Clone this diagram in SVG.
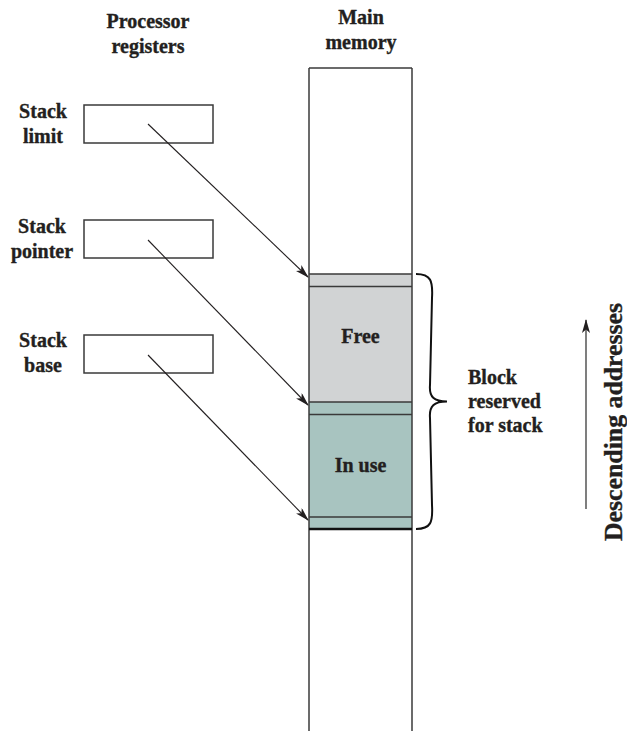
<svg xmlns="http://www.w3.org/2000/svg" width="627" height="731" viewBox="0 0 627 731">
<style>
text{font-family:"Liberation Serif","Times New Roman",serif;font-weight:bold;font-size:20px;fill:#231f20;stroke:#231f20;stroke-width:0.35}
.c{text-anchor:middle}
.reg{fill:#fff;stroke:#3a3a3a;stroke-width:1.5}
.mline{stroke:#3a3a3a;stroke-width:1.5;fill:none}
.conn{stroke:#231f20;stroke-width:1.1;fill:none;marker-end:url(#ah)}
</style>
<defs>
<marker id="ah" viewBox="0 0 14 8" refX="13" refY="4" markerWidth="14" markerHeight="8" markerUnits="userSpaceOnUse" orient="auto">
<path d="M0,0 L14,4 L0,8 L3.5,4 Z" fill="#231f20"/>
</marker>
</defs>
<rect width="627" height="731" fill="#fff"/>
<g id="headers">
<text class="c" x="148" y="28">Processor</text>
<text class="c" x="148" y="53">registers</text>
<text class="c" x="361" y="24">Main</text>
<text class="c" x="361" y="49">memory</text>
</g>
<g id="memory">
<rect x="309" y="274" width="103" height="128" fill="#d1d3d4"/>
<rect x="309" y="402" width="103" height="127" fill="#a8c4c0"/>
<line class="mline" x1="309" y1="68" x2="309" y2="731"/>
<line class="mline" x1="412" y1="68" x2="412" y2="731"/>
<line class="mline" x1="309" y1="68" x2="412" y2="68"/>
<line class="mline" x1="309" y1="274" x2="412" y2="274"/>
<line class="mline" x1="309" y1="286.5" x2="412" y2="286.5"/>
<line class="mline" x1="309" y1="402" x2="412" y2="402"/>
<line class="mline" x1="309" y1="414.5" x2="412" y2="414.5"/>
<line class="mline" x1="309" y1="517" x2="412" y2="517"/>
<line x1="309" y1="529" x2="412" y2="529" stroke="#111" stroke-width="2.5"/>
<text class="c" x="360.5" y="343">Free</text>
<text class="c" x="360.5" y="472">In use</text>
</g>
<g id="stack-limit">
<rect class="reg" x="84" y="105" width="129" height="38"/>
<text class="c" x="43" y="118">Stack</text>
<text class="c" x="43" y="143">limit</text>
</g>
<g id="stack-pointer">
<rect class="reg" x="84" y="220" width="129" height="38"/>
<text class="c" x="42" y="233">Stack</text>
<text class="c" x="42" y="258">pointer</text>
</g>
<g id="stack-base">
<rect class="reg" x="84" y="335" width="129" height="38"/>
<text class="c" x="43" y="347">Stack</text>
<text class="c" x="43" y="372">base</text>
</g>
<g id="block-reserved">
<path d="M416,274 C431,274 433,281 432,298 L430,385 C429,397 434,401.5 447,401.5 C434,401.5 429,406 430,418 L432,505 C433,522 431,529 416,529" fill="none" stroke="#111" stroke-width="2"/>
<text x="468" y="384">Block</text>
<text x="468" y="408">reserved</text>
<text x="468" y="432">for stack</text>
</g>
<g id="descending">
<line x1="586" y1="509" x2="586" y2="320" stroke="#3a3a3a" stroke-width="1.3" marker-end="url(#ah)"/>
<text class="c" transform="translate(622,422) rotate(-90)" style="font-size:25.8px">Descending addresses</text>
</g>
<g id="connectors">
<line class="conn" x1="148" y1="124" x2="308" y2="277"/>
<line class="conn" x1="148" y1="240" x2="308" y2="405"/>
<line class="conn" x1="148" y1="355" x2="308" y2="520"/>
</g>
</svg>
